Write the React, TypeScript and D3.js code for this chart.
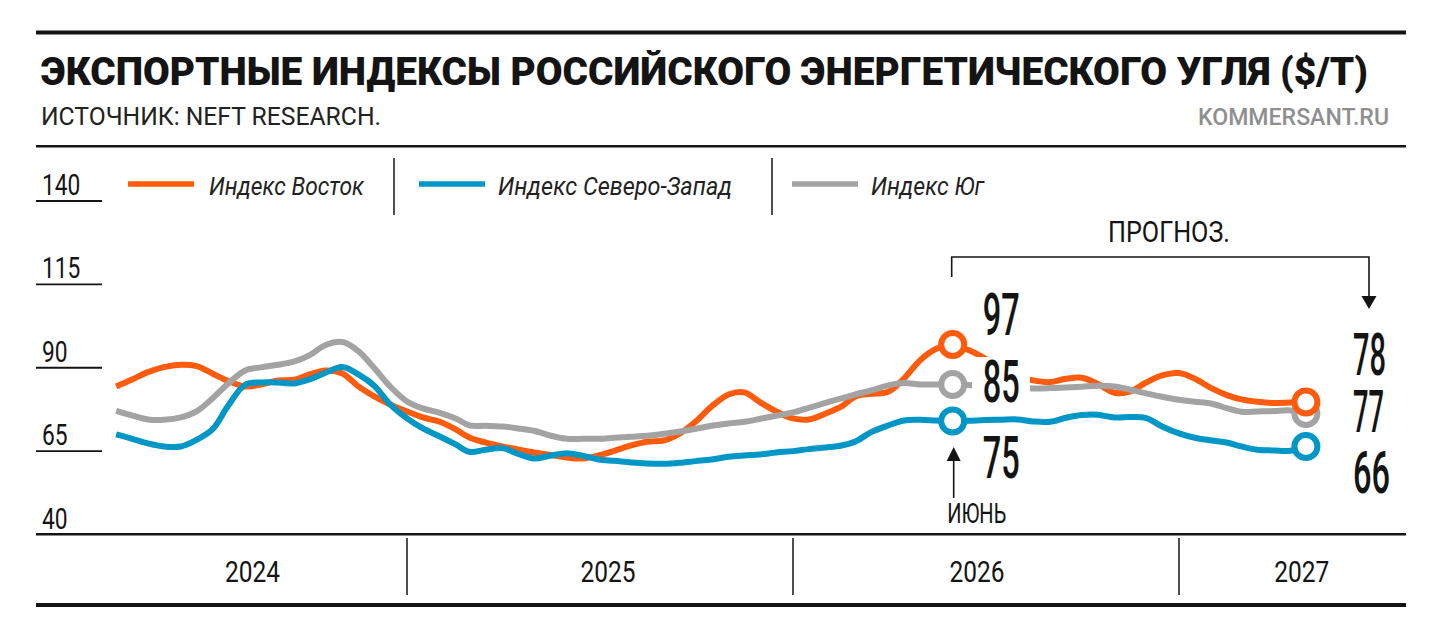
import React from 'react';
import * as d3 from 'd3';

// Индексы, $/т — полумесячные точки с апреля 2024 по май 2027
const vostok = [
  84.4, 86.5, 88.7, 90.2, 90.9, 90.5, 88.3, 86.0, 84.4, 85.0, 86.2, 86.4, 88.0, 89.2, 88.3, 84.4,
  81.4, 79.0, 76.9, 75.1, 73.8, 71.5, 69.1, 67.6, 66.4, 65.5, 64.6, 63.9, 63.1, 62.8, 63.7, 65.1,
  66.7, 67.8, 68.2, 70.3, 73.9, 78.4, 82.0, 82.6, 79.6, 76.9, 74.8, 74.5, 76.3, 78.4, 81.4, 82.2,
  82.8, 86.8, 92.2, 95.6, 97.0, 95.3, 92.9, 89.9, 87.5, 86.2, 85.7, 86.7, 87.0, 85.2, 82.5, 82.9,
  85.6, 87.7, 88.4, 86.7, 83.8, 81.7, 80.5, 79.8, 79.4, 79.6, 79.7,
];
const severoZapad = [
  70.0, 68.7, 67.3, 66.4, 66.4, 68.4, 71.5, 78.7, 84.9, 85.6, 85.6, 85.3, 86.5, 88.5, 90.2, 88.0,
  84.6, 79.0, 74.8, 71.8, 69.4, 67.0, 64.8, 65.4, 65.9, 64.2, 62.8, 63.6, 64.4, 63.6, 62.5, 62.1,
  61.6, 61.3, 61.2, 61.5, 62.0, 62.5, 63.3, 63.7, 64.0, 64.6, 65.0, 65.6, 66.1, 66.7, 67.9, 70.7,
  72.7, 74.2, 74.4, 74.2, 74.0, 74.1, 74.3, 74.4, 74.5, 73.9, 73.8, 75.0, 75.8, 75.9, 75.1, 75.2,
  74.9, 72.4, 70.3, 69.0, 68.2, 67.5, 66.4, 65.4, 65.2, 65.1, 66.4,
];
const yug = [
  77.1, 75.7, 74.5, 74.4, 75.1, 76.9, 80.8, 85.3, 89.2, 90.1, 90.9, 91.8, 93.8, 96.8, 97.7, 95.0,
  89.9, 84.4, 79.9, 77.8, 76.5, 74.8, 72.7, 72.6, 72.4, 71.8, 71.1, 69.7, 68.7, 68.7, 68.7, 69.0,
  69.3, 69.6, 70.2, 70.9, 71.7, 72.6, 73.3, 73.8, 74.7, 75.6, 76.6, 78.0, 79.5, 80.8, 82.0, 83.2,
  84.7, 85.4, 85.0, 85.0, 85.0, 84.8, 84.4, 84.1, 84.0, 83.8, 83.9, 84.1, 84.3, 84.6, 84.4, 83.4,
  82.3, 81.3, 80.4, 79.8, 79.2, 77.8, 76.8, 76.9, 77.0, 77.2, 76.3,
];

const seriesNames = ['Индекс Восток', 'Индекс Северо-Запад', 'Индекс Юг'];
const yTicks = [40, 65, 90, 115, 140];
const yearLabels = ['2024', '2025', '2026', '2027'];
const yearLabelAt = ['2024-08-08', '2025-07-10', '2026-06-24', '2027-04-27'];
const yearBreaks = ['2025-01-01', '2026-01-01', '2027-01-01'];
const juneLabels = ['97', '85', '75'];
const endLabels = ['78', '77', '66'];

const ORANGE = '#ff5b0c';
const BLUE = '#0097c7';
const GRAY = '#a3a3a3';
const INK = '#141414';
const FONT = 'Roboto, "Noto Sans", sans-serif';

const dates = d3
  .timeMonth.range(new Date(2024, 3, 1), new Date(2027, 5, 1))
  .flatMap(m => [m, d3.timeDay.offset(m, 15)])
  .slice(0, vostok.length);

const JUNE = 52;
const LAST = vostok.length - 1;

export default function App() {
  const x = d3.scaleTime().domain([new Date(2025, 0, 1), new Date(2027, 0, 1)]).range([407, 1179]);
  const y = d3.scaleLinear().domain([40, 140]).range([534.5, 201]);
  const line = d3
    .line<number>()
    .x((_, i) => x(dates[i]))
    .y(v => y(v))
    .curve(d3.curveCatmullRom.alpha(0.5));

  const series = [
    { values: vostok, color: ORANGE },
    { values: yug, color: GRAY },
    { values: severoZapad, color: BLUE },
  ];
  const xJune = x(dates[JUNE]);
  const xEnd = x(dates[LAST]);

  const legend = [
    { name: seriesNames[0], color: ORANGE, sx: 128, tx: 209, w: 155, sep: 394 },
    { name: seriesNames[1], color: BLUE, sx: 419, tx: 498, w: 234, sep: 772 },
    { name: seriesNames[2], color: GRAY, sx: 792, tx: 871, w: 113, sep: null },
  ];

  // крупные цифры: узкий шрифт, вытянутый по вертикали
  const big = (key: string, tx: number, ty: number, w: number, s: string) => (
    <text key={key} transform={`translate(${tx},${ty}) scale(1,1.3)`} fontSize={46} fontWeight={500} fill={INK} textLength={w} lengthAdjust="spacingAndGlyphs">
      {s}
    </text>
  );

  return (
    <svg width={1440} height={640} style={{ position: 'absolute', left: 0, top: 0, background: '#fff' }} fontFamily={FONT}>
      <rect x={0} y={0} width={1440} height={640} fill="#fff" />
      {/* шапка */}
      <rect x={36} y={30.5} width={1370} height={4} fill={INK} />
      <text x={41} y={84.5} fontSize={38} fontWeight={900} fill={INK} textLength={1327} lengthAdjust="spacingAndGlyphs">
        ЭКСПОРТНЫЕ ИНДЕКСЫ РОССИЙСКОГО ЭНЕРГЕТИЧЕСКОГО УГЛЯ ($/Т)
      </text>
      <text x={41} y={125} fontSize={26.5} fill="#222" textLength={340} lengthAdjust="spacingAndGlyphs">
        ИСТОЧНИК: NEFT RESEARCH.
      </text>
      <text x={1198} y={125} fontSize={24} fontWeight={500} fill="#8f8f8f" textLength={191} lengthAdjust="spacingAndGlyphs">
        KOMMERSANT.RU
      </text>
      <rect x={36} y={145} width={1370} height={2.5} fill={INK} />

      {/* легенда */}
      {legend.map(l => (
        <g key={l.name}>
          <line x1={l.sx} x2={l.sx + 66} y1={184} y2={184} stroke={l.color} strokeWidth={5.5} />
          <text x={l.tx} y={195} fontSize={26} fontStyle="italic" fill="#222" textLength={l.w} lengthAdjust="spacingAndGlyphs">
            {l.name}
          </text>
          {l.sep && <line x1={l.sep} x2={l.sep} y1={158} y2={215} stroke={INK} strokeWidth={1.5} />}
        </g>
      ))}

      {/* ось Y */}
      {yTicks.map(t => (
        <g key={t}>
          {t > 40 && <line x1={36} x2={102} y1={y(t)} y2={y(t)} stroke={INK} strokeWidth={1.8} />}
          <text x={42} y={y(t) - 6} fontSize={30} fill={INK} textLength={String(t).length * 12.8} lengthAdjust="spacingAndGlyphs">
            {t}
          </text>
        </g>
      ))}

      {/* линии */}
      {series.map(s => (
        <path key={s.color} d={line(s.values) || ''} fill="none" stroke={s.color} strokeWidth={6} strokeLinejoin="round" />
      ))}

      {/* подложка под подписями июня */}
      <rect x={972} y={357} width={58} height={53} fill="#fff" />

      {/* маркеры июнь 2026 */}
      {[vostok, yug, severoZapad].map((vals, i) => (
        <circle key={'j' + i} cx={xJune} cy={y(vals[JUNE])} r={11.5} fill="#fff" stroke={[ORANGE, GRAY, BLUE][i]} strokeWidth={6} />
      ))}
      {/* маркеры конца прогноза */}
      {[yug, vostok, severoZapad].map((vals, i) => (
        <circle key={'e' + i} cx={xEnd} cy={y(vals[LAST])} r={11.5} fill="#fff" stroke={[GRAY, ORANGE, BLUE][i]} strokeWidth={6} />
      ))}

      {/* крупные подписи */}
      {juneLabels.map((lab, i) => big('jl' + i, xJune + 30, [335, 402, 478][i], 37, lab))}
      {endLabels.map((lab, i) => big('el' + i, 1353, [375, 432, 493][i], [33, 31, 37][i], lab))}

      {/* прогноз */}
      <text x={1108} y={242} fontSize={30} fill={INK} textLength={122} lengthAdjust="spacingAndGlyphs">
        ПРОГНОЗ.
      </text>
      <path d={`M${xJune - 1},277 V257 H1369 V298`} fill="none" stroke={INK} strokeWidth={1.6} />
      <path d="M1361.5,296 L1376.5,296 L1369,309 Z" fill={INK} />

      {/* июнь */}
      <line x1={xJune + 1} x2={xJune + 1} y1={498} y2={460} stroke={INK} strokeWidth={1.6} />
      <path d={`M${xJune - 6},461 L${xJune + 8},461 L${xJune + 1},447 Z`} fill={INK} />
      <text x={xJune + 24} y={523} fontSize={27} fill={INK} textAnchor="middle" textLength={59} lengthAdjust="spacingAndGlyphs">
        ИЮНЬ
      </text>

      {/* ось X */}
      <rect x={36} y={533} width={1370} height={2.5} fill={INK} />
      {yearBreaks.map(d => (
        <line key={d} x1={x(new Date(d))} x2={x(new Date(d))} y1={538} y2={595} stroke={INK} strokeWidth={1.5} />
      ))}
      {yearLabels.map((lab, i) => (
        <text key={lab} x={x(new Date(yearLabelAt[i]))} y={582} fontSize={30} fill={INK} textAnchor="middle" textLength={55} lengthAdjust="spacingAndGlyphs">
          {lab}
        </text>
      ))}
      <rect x={36} y={603} width={1370} height={4} fill={INK} />
    </svg>
  );
}
